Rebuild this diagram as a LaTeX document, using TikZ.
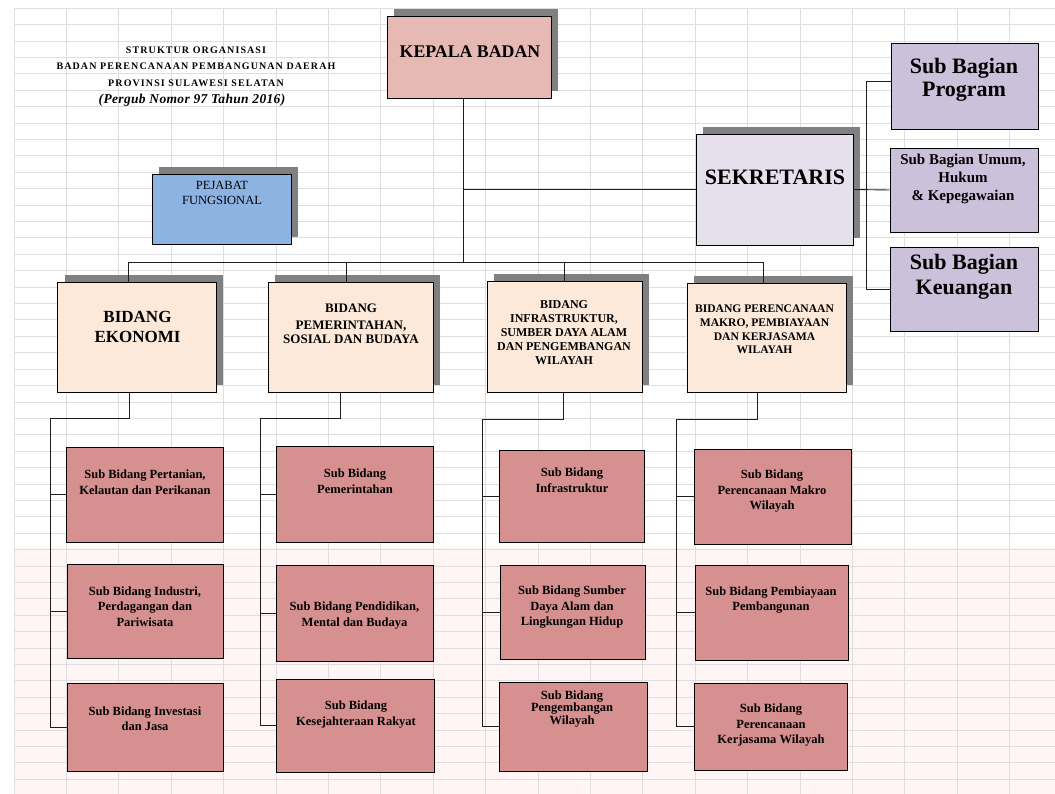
\documentclass[tikz,border=0pt]{standalone}
\usepackage{fontspec}
\setmainfont{Liberation Serif}
\newfontfamily\ttlfont[LetterSpace=11]{Liberation Serif}
\newfontfamily\ttlifont[LetterSpace=2.5]{Liberation Serif}
\usetikzlibrary{fit,calc}
\definecolor{gridc}{RGB}{222,222,222}
\definecolor{shadc}{RGB}{128,128,128}
\definecolor{linec}{RGB}{30,30,30}
\definecolor{kbc}{RGB}{230,185,180}
\definecolor{pjc}{RGB}{141,179,226}
\definecolor{skc}{RGB}{229,224,236}
\definecolor{sbc}{RGB}{204,193,218}
\definecolor{bdc}{RGB}{253,233,217}
\definecolor{sdc}{RGB}{214,144,144}
\definecolor{tintc}{RGB}{255,245,245}
\newcommand\shad[4]{\fill[shadc] ({#1+7},{#2-7}) rectangle ({#3+7},{#4-7});}
\begin{document}
\begin{tikzpicture}[x=1pt,y=-1pt,
  boxbase/.style={inner sep=0pt, draw=black, line width=0.9pt},
  kbbox/.style={boxbase, fill=kbc},
  pjbox/.style={boxbase, fill=pjc},
  skbox/.style={boxbase, fill=skc},
  sbbox/.style={boxbase, fill=sbc},
  bdbox/.style={boxbase, fill=bdc},
  sdbox/.style={boxbase, fill=sdc},
  txt/.style={align=center, inner sep=0pt},
  subtxt/.style={txt, font={\fontsize{12.5}{15.5}\selectfont\bfseries}},
  bdtxt/.style={txt, font={\fontsize{12}{14}\selectfont\bfseries}},
  conn/.style={draw=linec, line width=0.9pt}]
\useasboundingbox (0,0) rectangle (1055,794);
\fill[white] (0,0) rectangle (1055,794);
\fill[tintc] (14,548) rectangle (1055,794);
\foreach \i in {0,...,19} \draw[gridc, line width=0.8pt] ({14+52.4*\i},8.3) -- ({14+52.4*\i},794);
\foreach \j in {0,...,47} \draw[gridc, line width=0.8pt] (14,{8.3+16.4*\j}) -- (1055,{8.3+16.4*\j});

% title
\node[txt, font={\fontsize{10}{16.4}\selectfont\bfseries}] (title) at (196,66.5)
  {\ttlfont STRUKTUR ORGANISASI\\ \ttlfont BADAN PERENCANAAN PEMBANGUNAN DAERAH\\ \ttlfont PROVINSI SULAWESI SELATAN};
\node[txt, font={\fontsize{13.5}{15}\selectfont\bfseries\itshape}] (titlesub) at (192,100.5) {\ttlifont (Pergub Nomor 97 Tahun 2016)};

% shadows
\shad{387}{16}{551}{98}
\shad{152}{174}{291}{244}
\shad{696}{134}{853}{245}
\shad{57.5}{282}{216}{392}
\shad{268}{282}{433}{392}
\shad{487}{281}{642}{392}
\shad{687}{283}{846}{392}

% top boxes
\node[kbbox, fit={(387,16) (551,98)}] (kb) {};
\node[txt, font={\fontsize{17.8}{20}\selectfont\bfseries}] (kbt) at (470,51.5) {KEPALA BADAN};
\node[pjbox, fit={(152,174) (291,244)}] (pj) {};
\node[txt, font={\fontsize{12.5}{15}\selectfont}] (pjt) at (222,192.5) {PEJABAT\\FUNGSIONAL};
\node[skbox, fit={(696,134) (853,245)}] (sk) {};
\node[txt, font={\fontsize{22}{24}\selectfont\bfseries}] (skt) at (775,177) {SEKRETARIS};

\node[sbbox, fit={(891,43) (1038,129)}] (sbp) {};
\node[txt, font={\fontsize{22}{23}\selectfont\bfseries}] (sbpt) at (964,79.5) {Sub Bagian\\Program};
\node[sbbox, fit={(890,148) (1038,232)}] (sbu) {};
\node[txt, font={\fontsize{15}{18}\selectfont\bfseries}] (sbut) at (963,179) {Sub Bagian Umum,\\Hukum\\\& Kepegawaian};
\node[sbbox, fit={(890,247) (1038,331)}] (sbk) {};
\node[txt, font={\fontsize{22}{25}\selectfont\bfseries}] (sbkt) at (964,276.5) {Sub Bagian\\Keuangan};

% bidang boxes
\node[bdbox, fit={(57.5,282) (216,392)}] (be) {};
\node[txt, font={\fontsize{17}{20}\selectfont\bfseries}] (bet) at (137.5,327) {BIDANG\\EKONOMI};
\node[bdbox, fit={(268,282) (433,392)}] (bp) {};
\node[txt, font={\fontsize{13}{14}\selectfont\bfseries}] (bpt) at (351,324) {BIDANG\\[3pt]PEMERINTAHAN,\\SOSIAL DAN BUDAYA};
\node[bdbox, fit={(487,281) (642,392)}] (bi) {};
\node[bdtxt] (bit) at (564,333) {BIDANG\\INFRASTRUKTUR,\\SUMBER DAYA ALAM\\DAN PENGEMBANGAN\\WILAYAH};
\node[bdbox, fit={(687,283) (846,392)}] (br) {};
\node[txt, font={\fontsize{11.6}{13.7}\selectfont\bfseries}] (brt) at (764.5,329.5) {BIDANG PERENCANAAN\\MAKRO, PEMBIAYAAN\\DAN KERJASAMA\\WILAYAH};

% sub bidang boxes
\node[sdbox, fit={(66.5,447) (223,542)}] (s11) {};
\node[subtxt] (s11t) at (145,482) {Sub Bidang Pertanian,\\Kelautan dan Perikanan};
\node[sdbox, fit={(67,564) (223,658)}] (s12) {};
\node[subtxt] (s12t) at (145,606.5) {Sub Bidang Industri,\\Perdagangan dan\\Pariwisata};
\node[sdbox, fit={(67,683) (223,771)}] (s13) {};
\node[subtxt] (s13t) at (145,718.5) {Sub Bidang Investasi\\dan Jasa};

\node[sdbox, fit={(276,446) (433,542)}] (s21) {};
\node[subtxt] (s21t) at (355,481) {Sub Bidang\\Pemerintahan};
\node[sdbox, fit={(276,565) (433,661)}] (s22) {};
\node[subtxt] (s22t) at (354.5,615.5) {Sub Bidang Pendidikan,\\Mental dan Budaya};
\node[sdbox, fit={(276,679) (434,772)}] (s23) {};
\node[subtxt] (s23t) at (356,714.5) {Sub Bidang\\Kesejahteraan Rakyat};

\node[sdbox, fit={(499,450) (644,542)}] (s31) {};
\node[subtxt] (s31t) at (572,480) {Sub Bidang\\Infrastruktur};
\node[sdbox, fit={(500,565) (645,659)}] (s32) {};
\node[subtxt] (s32t) at (572,607.5) {Sub Bidang Sumber\\Daya Alam dan\\Lingkungan Hidup};
\node[sdbox, fit={(499,682) (647,771)}] (s33) {};
\node[txt, font={\fontsize{12.5}{10}\selectfont\bfseries}] (s33t) at (572,709) {Sub Bidang\\Pengembangan\\Wilayah};

\node[sdbox, fit={(694,449) (851,544)}] (s41) {};
\node[subtxt] (s41t) at (772,491.5) {Sub Bidang\\Perencanaan Makro\\Wilayah};
\node[sdbox, fit={(695,565) (848,660)}] (s42) {};
\node[subtxt] (s42t) at (771,600) {Sub Bidang Pembiayaan\\Pembangunan};
\node[sdbox, fit={(694,683) (847,770)}] (s43) {};
\node[subtxt] (s43t) at (771,725.5) {Sub Bidang\\Perencanaan\\Kerjasama Wilayah};

% connectors: top
\coordinate (spine) at (463,262);
\draw[conn] (kb.south -| spine) -- (spine);
\draw[conn] ($(pj.east)+(8,-3)$) -- ($(pj.east)+(8,-3)$ -| spine);
\draw[conn] (sk.west -| spine) -- (sk.west);
\draw[conn] (sk.east) -- (sbu.west);
\draw[conn] ([yshift=5pt]sbp.west) -- ++(-24,0) |- (sbk.west);

% bus to bidang
\coordinate (d1) at (128,262);
\coordinate (d2) at (346.5,262);
\coordinate (d3) at (564,262);
\coordinate (d4) at (763,262);
\draw[conn] (d1) -- (d4);
\draw[conn] (d1) -- (d1 |- be.north);
\draw[conn] (d2) -- (d2 |- bp.north);
\draw[conn] (d3) -- (d3 |- bi.north);
\draw[conn] (d4) -- (d4 |- br.north);

% column 1
\coordinate (e1) at (129.5,418);
\coordinate (f1) at (50,418);
\draw[conn] (e1 |- be.south) -- (e1) -- (f1) -- (s13.west -| f1) -- (s13.west);
\draw[conn] (s11.west -| f1) -- (s11.west);
\draw[conn] (s12.west -| f1) -- (s12.west);
% column 2
\coordinate (e2) at (340,418);
\coordinate (f2) at (260,418);
\draw[conn] (e2 |- bp.south) -- (e2) -- (f2) -- (s23.west -| f2) -- (s23.west);
\draw[conn] (s21.west -| f2) -- (s21.west);
\draw[conn] (s22.west -| f2) -- (s22.west);
% column 3
\coordinate (e3) at (563,419);
\coordinate (f3) at (482,419);
\draw[conn] (e3 |- bi.south) -- (e3) -- (f3) -- (s33.west -| f3) -- (s33.west);
\draw[conn] (s31.west -| f3) -- (s31.west);
\draw[conn] (s32.west -| f3) -- (s32.west);
% column 4
\coordinate (e4) at (757,419);
\coordinate (f4) at (676,419);
\draw[conn] (e4 |- br.south) -- (e4) -- (f4) -- (s43.west -| f4) -- (s43.west);
\draw[conn] (s41.west -| f4) -- (s41.west);
\draw[conn] (s42.west -| f4) -- (s42.west);
\end{tikzpicture}
\end{document}
